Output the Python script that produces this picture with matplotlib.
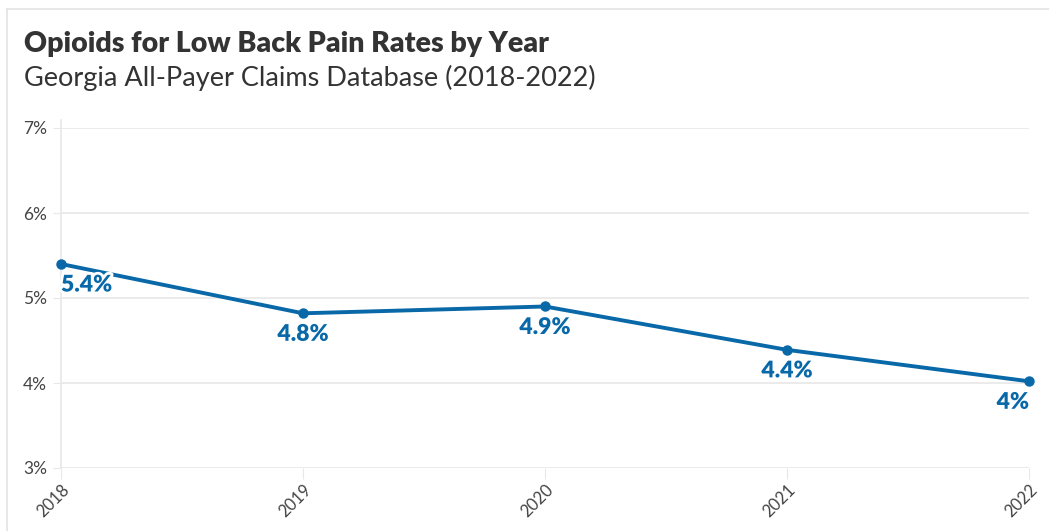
import matplotlib
matplotlib.use("Agg")
import matplotlib.pyplot as plt
from matplotlib.lines import Line2D
import matplotlib.patheffects as pe

years = [2018, 2019, 2020, 2021, 2022]
rates = [5.4, 4.82, 4.9, 4.39, 4.02]
labels = ["5.4%", "4.8%", "4.9%", "4.4%", "4%"]
yticks = [3, 4, 5, 6, 7]

plt.rcParams['font.family'] = ['Lato', 'DejaVu Sans']

W, H = 1049, 531
fig = plt.figure(figsize=(W / 100, H / 100), dpi=100)
fig.patch.set_facecolor('white')

# frame border (top and left)
fig.add_artist(Line2D([7 / W, 7 / W], [0, 1 - 9 / H], transform=fig.transFigure, color='#e3e3e3', lw=1.2))
fig.add_artist(Line2D([7 / W, 1], [1 - 9 / H, 1 - 9 / H], transform=fig.transFigure, color='#e3e3e3', lw=1.2))

ax = fig.add_axes([61 / W, 1 - 468 / H, (1029 - 61) / W, (468 - 128) / H])

color = '#0868a8'
ax.plot(years, rates, color=color, lw=2.8, marker='o', ms=6.5, zorder=3, clip_on=False)

ax.set_xlim(2018, 2022)
ax.set_ylim(3, 7)
ax.set_yticks(yticks)
ax.set_yticklabels([f"{t}%" for t in yticks])
ax.set_xticks(years)
ax.set_xticklabels([str(y) for y in years], rotation=45, ha='right', va='top', rotation_mode='anchor')

ax.grid(axis='y', color='#e8e8e8', lw=1.2)
ax.set_axisbelow(True)
for s in ['top', 'right', 'bottom']:
    ax.spines[s].set_visible(False)
ax.spines['left'].set_color('#e8e8e8')
ax.spines['left'].set_linewidth(1.2)
ax.tick_params(axis='y', length=6, color='#e8e8e8', labelsize=12.5, labelcolor='#444444', pad=4)
ax.tick_params(axis='x', length=8, color='#e8e8e8', labelsize=12, labelcolor='#444444', pad=2)
ax.spines['left'].set_bounds(3, 7.1)

for i, (x, y, t) in enumerate(zip(years, rates, labels)):
    ha = 'center'
    if i == 0:
        ha = 'left'
    elif i == len(years) - 1:
        ha = 'right'
    ax.annotate(t, (x, y), xytext=(0, -21), textcoords='offset pixels', ha=ha, va='center',
                fontsize=16.5, fontweight='heavy', color=color, zorder=4,
                path_effects=[pe.withStroke(linewidth=4, foreground='white')])

fig.text(24 / W, 1 - 44 / H, "Opioids for Low Back Pain Rates by Year", fontsize=20.5, fontweight='heavy',
         color='#333333', va='center', ha='left')
fig.text(24 / W, 1 - 78 / H, "Georgia All-Payer Claims Database (2018-2022)", fontsize=19.5,
         color='#333333', va='center', ha='left')

fig.savefig("out.png", dpi=100, facecolor='white')
